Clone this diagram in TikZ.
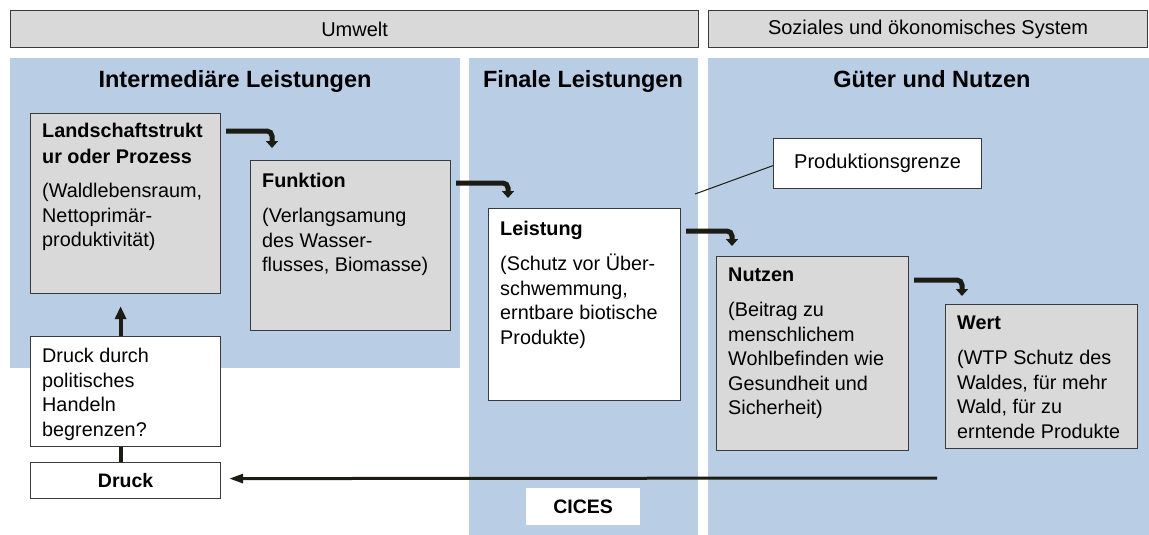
\documentclass[tikz,border=0pt]{standalone}
\usepackage{fontspec}
\setmainfont{Liberation Sans}
\usetikzlibrary{arrows.meta,calc}
\definecolor{panelblue}{HTML}{B9CDE5}
\definecolor{boxgray}{HTML}{D9D9D9}
\definecolor{edge}{HTML}{3A3A3A}
\definecolor{arrowc}{HTML}{1C1C14}
\tikzset{
  panel/.style={fill=panelblue,draw=none,minimum width=#1,anchor=north west,inner sep=0},
  bar/.style={fill=boxgray,draw=edge,line width=1.2pt,anchor=north west,inner sep=0,minimum height=37pt,font=\fontsize{20}{24}\selectfont},
  gbox/.style={fill=boxgray,draw=edge,line width=1.2pt,anchor=north west,inner sep=0},
  wbox/.style={fill=white,draw=edge,line width=1.2pt,anchor=north west,inner sep=0},
  txt/.style={anchor=north west,align=left,inner sep=0,font=\fontsize{19.8}{24.5}\selectfont},
  title/.style={anchor=base,inner sep=0,font=\fontsize{23.5}{28}\selectfont\bfseries},
  elbow/.style={draw=arrowc,line width=5pt,rounded corners=5pt,-{Triangle[width=12pt,length=7pt]}},
  thick arrow/.style={draw=arrowc,line width=4pt,-{Triangle[width=11pt,length=13pt]}},
  long arrow/.style={draw=arrowc,line width=3pt,-{Triangle[width=9pt,length=14pt]}}
}
\begin{document}
\begin{tikzpicture}[x=1pt,y=-1pt]
\useasboundingbox[fill=white] (0,0) rectangle (1149,535);
% panels
\node[panel=450pt,minimum height=310pt] (p1) at (10,58) {};
\node[panel=229pt,minimum height=477pt] (p2) at (469,58) {};
\node[panel=441pt,minimum height=477pt] (p3) at (708,58) {};
% top bars
\node[bar,minimum width=688pt] (umwelt) at (10,10) {Umwelt};
\node[bar,minimum width=439pt] (sozial) at (708,10) {Soziales und ökonomisches System};
% titles
\node[title] (t1) at (235,88) {Intermediäre Leistungen};
\node[title] (t2) at (583,88) {Finale Leistungen};
\node[title] (t3) at (932,88) {Güter und Nutzen};
% boxes
\node[gbox,minimum width=190pt,minimum height=180pt] (land) at (30,113) {};
\node[txt] (landt) at (42,123) {\textbf{Landschaftstrukt}\\[1.5pt]\textbf{ur oder Prozess}\\[9.5pt](Waldlebensraum,\\Nettoprimär-\\produktivität)};
\node[gbox,minimum width=200pt,minimum height=170pt] (funk) at (250,160) {};
\node[txt] (funkt) at (262,173) {\textbf{Funktion}\\[10.5pt](Verlangsamung\\des Wasser-\\flusses, Biomasse)};
\node[wbox,minimum width=192pt,minimum height=192pt] (leist) at (488,208) {};
\node[txt] (leistt) at (500,221) {\textbf{Leistung}\\[10.5pt](Schutz vor Über-\\schwemmung,\\erntbare biotische\\Produkte)};
\node[gbox,minimum width=192pt,minimum height=194pt] (nutz) at (716,256) {};
\node[txt] (nutzt) at (728,268) {\textbf{Nutzen}\\[10.5pt](Beitrag zu\\menschlichem\\Wohlbefinden wie\\Gesundheit und\\Sicherheit)};
\node[gbox,minimum width=192pt,minimum height=144pt] (wert) at (945,304) {};
\node[txt] (wertt) at (957,316) {\textbf{Wert}\\[10.5pt](WTP Schutz des\\Waldes, für mehr\\Wald, für zu\\erntende Produkte};
\node[wbox,minimum width=208pt,minimum height=50pt,font=\fontsize{20}{24}\selectfont] (prod) at (773,138) {Produktionsgrenze};
\node[wbox,minimum width=190pt,minimum height=110pt] (pol) at (30,336) {};
\node[txt] (polt) at (42,348) {Druck durch\\politisches\\Handeln\\begrenzen?};
\node[wbox,minimum width=190pt,minimum height=36pt,font=\fontsize{19.5}{22}\selectfont\bfseries] (druck) at (30,462) {Druck};
\node[fill=white,draw=none,anchor=north west,inner sep=0,minimum width=114pt,minimum height=37pt,font=\fontsize{19.5}{22}\selectfont\bfseries] (cices) at (526,488) {CICES};
% connectors
\draw[elbow] ($(land.north east)+(5,18)$) -| ($(funk.north west)+(22,-12)$);
\draw[elbow] ($(funk.north east)+(5,23)$) -| ($(leist.north west)+(20,-10)$);
\draw[elbow] ($(leist.north east)+(5,23)$) -| ($(nutz.north west)+(16,-10)$);
\draw[elbow] ($(nutz.north east)+(5,24)$) -| ($(wert.north west)+(17,-8)$);
\draw[thick arrow] ($(pol.north)+(-5,0)$) -- ($(land.south)+(-5,12)$);
\draw[draw=arrowc,line width=4pt] ($(druck.north)+(-5,0)$) -- ($(pol.south)+(-5,0)$);
\coordinate (rstart) at (937,478);
\draw[long arrow] (rstart) -- ($(druck.east)+(8,-2)$);
\coordinate (grenz) at (695,194);
\draw[draw=arrowc,line width=1pt] ($(prod.west)+(0,2)$) -- (grenz);
\end{tikzpicture}
\end{document}
